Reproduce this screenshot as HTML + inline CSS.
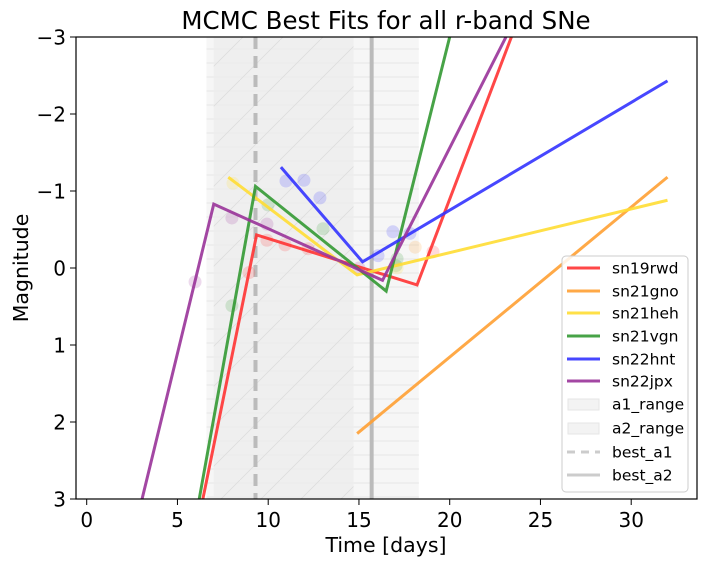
<!DOCTYPE html>
<html><head><meta charset="utf-8"><style>
body{margin:0;background:#fff;}
svg text{font-family:"DejaVu Sans","Liberation Sans",sans-serif;}
</style></head><body>
<svg id="chart" width="706" height="564" xmlns="http://www.w3.org/2000/svg">
<defs>
<pattern id="diag" width="40" height="40" patternUnits="userSpaceOnUse"><path d="M0,40 L40,0" stroke="#ddd" stroke-width="0.8"/></pattern>
<pattern id="horiz" width="10" height="14" patternUnits="userSpaceOnUse"><path d="M0,7 L10,7" stroke="#e2e2e2" stroke-width="0.8"/></pattern>
<clipPath id="clip"><rect x="76" y="37" width="621" height="462"/></clipPath>
</defs>
<text x="386" y="29" font-size="24.5" text-anchor="middle">MCMC Best Fits for all r-band SNe</text>
<g id="plot" clip-path="url(#clip)"></g>
<rect x="76" y="37" width="621" height="462" fill="none" stroke="#000" stroke-width="1.2"/>
<g id="axes"></g>
<text x="386" y="552" font-size="20.5" text-anchor="middle">Time [days]</text>
<text transform="translate(28,268) rotate(-90)" font-size="20.5" text-anchor="middle">Magnitude</text>
<g>
<rect x="562" y="256" width="126" height="236" rx="4" fill="#fff" fill-opacity="0.85" stroke="#ccc"/>
<g id="legend"></g>
</g>
</svg>
<script>
const seriesNames=["sn19rwd","sn21gno","sn21heh","sn21vgn","sn22hnt","sn22jpx"];
const seriesColors=["#ff3333","#ffa033","#ffdd33","#339933","#3333ff","#993399"];
const sn19rwdX=[6.4,9.36,18.2,23.4]; const sn19rwdY=[3,-0.43,0.22,-3];
const sn21gnoX=[14.9,32]; const sn21gnoY=[2.15,-1.18];
const sn21hehX=[7.8,14.9,32]; const sn21hehY=[-1.18,0.09,-0.88];
const sn21vgnX=[6.2,9.3,16.5,20]; const sn21vgnY=[3,-1.06,0.3,-3];
const sn22hntX=[10.7,15.2,32]; const sn22hntY=[-1.31,-0.08,-2.43];
const sn22jpxX=[3.05,7.0,16.3,23.1]; const sn22jpxY=[3,-0.83,0.16,-3];
const pointX=[10.98,11.97,12.85,16.87,16.05,17.81, 5.97,8.0,9.93, 9.93,10.93,12.2,8.94,19.08, 9.99,13.02,8.0,17.1,17.04, 8.06,17.1, 18.1, 15.0];
const pointY=[-1.13,-1.14,-0.91,-0.47,-0.16,-0.45, 0.18,-0.65,-0.57, -0.36,-0.30,-0.25,0.06,-0.21, -0.82,-0.51,0.49,-0.12,-0.03, -1.10,0.0, -0.27, 0.0];
const pointSeries=[4,4,4,4,4,4,5,5,5,0,0,0,0,0,3,3,3,3,3,2,2,1,5];
const xTicks=[0,5,10,15,20,25,30];
const yTicks=[-3,-2,-1,0,1,2,3];
const a1Range=[7.0,14.7], a2Range=[6.6,18.3], bestA1=9.3, bestA2=15.7;

const NS="http://www.w3.org/2000/svg";
const sx=d=>86.7+d*18.15;
const sy=m=>268+m*77;
function mk(tag,attrs,parent){const e=document.createElementNS(NS,tag);for(const k in attrs)e.setAttribute(k,attrs[k]);parent.appendChild(e);return e;}
const plot=document.getElementById('plot'), axes=document.getElementById('axes'), leg=document.getElementById('legend');

let r=mk('rect',{x:sx(a2Range[0]),y:37,width:sx(a2Range[1])-sx(a2Range[0]),height:462,fill:'#f6f6f6'},plot);


mk('rect',{x:sx(a2Range[0]),y:37,width:sx(a2Range[1])-sx(a2Range[0]),height:462,fill:'url(#horiz)'},plot);
r=mk('rect',{x:sx(a1Range[0]),y:37,width:sx(a1Range[1])-sx(a1Range[0]),height:462,fill:'#ececec',"fill-opacity":0.7},plot);


mk('rect',{x:sx(a1Range[0]),y:37,width:sx(a1Range[1])-sx(a1Range[0]),height:462,fill:'url(#diag)'},plot);
r=mk('line',{x1:sx(bestA1),x2:sx(bestA1),y1:37,y2:499,stroke:'#bbb','stroke-width':4,'stroke-dasharray':'12,7'},plot);


r=mk('line',{x1:sx(bestA2),x2:sx(bestA2),y1:37,y2:499,stroke:'#bbb','stroke-width':4},plot);



for(let i=0;i<pointX.length;i++){
  const c=mk('circle',{cx:sx(pointX[i]),cy:sy(pointY[i]),r:6.5,fill:seriesColors[pointSeries[i]],'fill-opacity':0.18},plot);
  
  
}
const sX=[sn19rwdX,sn21gnoX,sn21hehX,sn21vgnX,sn22hntX,sn22jpxX];
const sY=[sn19rwdY,sn21gnoY,sn21hehY,sn21vgnY,sn22hntY,sn22jpxY];
for(let s=0;s<6;s++){
  const pts=sX[s].map((x,i)=>sx(x)+','+sy(sY[s][i])).join(' ');
  const p=mk('polyline',{points:pts,fill:'none',stroke:seriesColors[s],'stroke-width':3,'stroke-opacity':0.9},plot);
  
  
}
xTicks.forEach(t=>{
  mk('line',{x1:sx(t),x2:sx(t),y1:499,y2:505,stroke:'#000'},axes);
  const tx=mk('text',{x:sx(t),y:527,'font-size':20,'text-anchor':'middle'},axes);tx.textContent=t;
  
  
});
yTicks.forEach(t=>{
  mk('line',{x1:70,x2:76,y1:sy(t),y2:sy(t),stroke:'#000'},axes);
  const tx=mk('text',{x:66,y:sy(t)+7.5,'font-size':20,'text-anchor':'end'},axes);tx.textContent=(t<0?'\u2212'+(-t):t);
  
  
});
const legY=[268,291,313,336,359,381,404,428,452,475];
const legLabels=seriesNames.concat(["a1_range","a2_range","best_a1","best_a2"]);
legLabels.forEach((lab,i)=>{
  const y=legY[i];
  if(i<6) mk('line',{x1:567,x2:600,y1:y,y2:y,stroke:seriesColors[i],'stroke-width':3,'stroke-opacity':0.9},leg);
  else if(i<8){mk('rect',{x:568,y:y-5,width:31,height:11,fill:'#f3f3f3',stroke:'#e6e6e6'},leg);}
  else mk('line',{x1:567,x2:600,y1:y,y2:y,stroke:'#ccc','stroke-width':3,'stroke-dasharray':i==8?'8,6':'none'},leg);
  const t=mk('text',{x:612,y:y+5.5,'font-size':15.5},leg);t.textContent=lab;
  
  
});
</script>
</body></html>
